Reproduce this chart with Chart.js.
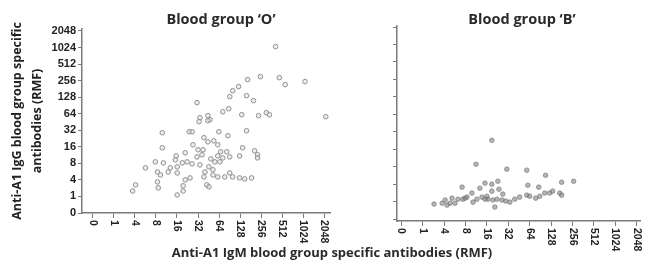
<!DOCTYPE html>
<html>
<head>
<meta charset="utf-8">
<script src="https://cdn.jsdelivr.net/npm/chart.js@4.4.0/dist/chart.umd.min.js"></script>
<style>
  body { margin: 0; background: #fff; }
  #wrap { position: relative; width: 646px; height: 263px; overflow: hidden; }
  .ttl { position: absolute; text-align: center; font: bold 14.5px "Open Sans", "Noto Sans", sans-serif; color: #2a2a2a; white-space: nowrap; }
  canvas { position: absolute; top: 0; }
</style>
</head>
<body>
<div id="wrap">
  <canvas id="chart-o" width="335" height="263" style="left:0"></canvas>
  <canvas id="chart-b" width="311" height="263" style="left:335px"></canvas>
  <div class="ttl" style="left:121px;top:9px;width:200px">Blood group ‘O’</div>
  <div class="ttl" style="left:422px;top:9px;width:200px">Blood group ‘B’</div>
  <div class="ttl" style="left:82px;top:243px;width:500px;font-size:13px">Anti-A1 IgM blood group specific antibodies (RMF)</div>
</div>
<script>
// tick labels: both axes use the same titre steps, one step per tick
var tickLabels = ['0', '1', '4', '8', '16', '32', '64', '128', '256', '512', '1024', '2048'];

// Blood group O: IgM step (x) / IgG step (y)
var groupOX = [8.69, 7.36, 7.97, 8.87, 9.15, 10.09, 6.65, 6.93, 6.51, 7.31, 7.64, 6.18, 6.46, 4.95, 5.09, 5.47, 5.57, 7.08, 7.88, 8.25,
  8.40, 11.08, 4.58, 4.72, 5.05, 5.47, 3.30, 3.30, 5.99, 6.42, 7.31, 5.28, 5.47, 5.75, 5.94, 4.76, 5.24, 5.00, 5.19, 4.95,
  4.39, 3.96, 3.92, 4.48, 4.72, 4.25, 4.01, 3.68, 3.58, 2.97, 3.35, 3.07, 3.21, 2.50, 4.01, 5.09, 5.33, 5.52, 5.71, 5.80,
  6.04, 5.61, 5.94, 6.08, 6.37, 6.18, 6.51, 7.12, 6.98, 7.69, 7.83, 7.83, 6.51, 6.65, 6.98, 7.22, 7.55, 6.27, 5.94, 5.71,
  5.28, 5.42, 5.52, 4.62, 4.39, 4.29, 4.29, 4.01, 3.07, 3.11, 2.03, 1.89];
var groupOY = [10.06, 8.06, 8.24, 8.18, 7.76, 7.94, 7.39, 7.64, 7.03, 7.09, 6.79, 6.12, 6.30, 6.67, 5.76, 5.88, 5.64, 5.94, 5.88, 6.06,
  5.94, 5.82, 4.91, 4.91, 5.52, 5.58, 4.85, 3.94, 4.91, 4.67, 4.97, 4.55, 4.30, 4.36, 4.12, 4.12, 3.82, 3.82, 3.52, 3.39,
  3.64, 3.45, 3.21, 3.09, 2.97, 3.03, 2.79, 2.73, 2.48, 3.09, 3.03, 2.48, 2.30, 2.73, 2.42, 2.91, 2.48, 2.79, 2.61, 3.09,
  3.09, 3.27, 3.45, 3.70, 3.70, 3.33, 3.39, 3.94, 3.45, 3.76, 3.52, 3.33, 2.42, 2.18, 2.12, 2.06, 2.12, 2.18, 2.18, 2.30,
  2.18, 1.70, 1.58, 2.12, 2.00, 1.64, 1.33, 1.09, 1.88, 1.52, 1.70, 1.33];

// Blood group B
var groupBX = [4.23, 3.49, 4.93, 5.86, 6.74, 7.49, 8.05, 2.84, 3.30, 3.67, 3.91, 4.23, 4.51, 4.23, 4.56, 5.91, 6.42, 4.74, 3.07, 2.65,
  2.37, 2.05, 1.91, 1.53, 2.14, 2.28, 2.51, 2.88, 3.35, 3.53, 3.91, 4.05, 4.28, 4.47, 4.70, 4.37, 4.88, 5.07, 5.30, 5.53,
  5.86, 6.00, 6.28, 6.47, 6.70, 6.93, 7.07, 7.40, 7.49, 3.77, 4.00, 2.98];
var groupBY = [4.51, 3.14, 2.86, 2.80, 2.51, 2.11, 2.17, 1.83, 1.49, 1.77, 2.06, 2.00, 2.17, 1.60, 1.71, 1.94, 1.83, 1.43, 1.26, 1.14,
  1.20, 1.09, 0.91, 0.86, 0.80, 0.91, 0.91, 1.14, 0.97, 1.14, 1.14, 1.14, 1.09, 1.14, 1.09, 0.69, 1.03, 0.97, 1.14, 1.26,
  1.37, 1.31, 1.20, 1.31, 1.49, 1.49, 1.60, 1.49, 1.37, 1.26, 1.31, 1.20];

var AXIS = '#7a7a7a';
var TICK_FONT = { family: '"Liberation Sans", Arial, sans-serif', size: 11, weight: 'bold' };

function pts(xs, ys) {
  return xs.map(function (x, i) { return { x: x, y: ys[i] }; });
}

function allTicks(scale) {
  scale.ticks = tickLabels.map(function (l, i) { return { value: i }; });
}

// x labels read top-to-bottom (rotated clockwise), drawn under each tick
var downLabels = {
  id: 'downLabels',
  afterDraw: function (chart) {
    var sc = chart.scales.x, ctx = chart.ctx;
    ctx.save();
    ctx.font = 'bold 10.5px "Liberation Sans", Arial, sans-serif';
    ctx.fillStyle = '#222';
    ctx.textAlign = 'left';
    ctx.textBaseline = 'middle';
    sc.ticks.forEach(function (t) {
      ctx.save();
      ctx.translate(sc.getPixelForValue(t.value), sc.top + 7);
      ctx.rotate(Math.PI / 2);
      ctx.fillText(tickLabels[t.value], 0, 0);
      ctx.restore();
    });
    ctx.restore();
  }
};

function makeChart(id, data, o) {
  return new Chart(document.getElementById(id).getContext('2d'), {
    type: 'scatter',
    data: { datasets: [{ data: data, pointRadius: o.r, pointBackgroundColor: o.fill, pointBorderColor: o.line, pointBorderWidth: 1 }] },
    plugins: [downLabels],
    options: {
      responsive: false, animation: false,
      layout: { padding: { top: o.top, right: o.right, left: 0, bottom: 0 } },
      plugins: { legend: { display: false }, tooltip: { enabled: false } },
      scales: {
        x: {
          type: 'linear', min: o.xmin, max: o.xmax,
          afterBuildTicks: allTicks,
          afterFit: function (s) { s.height = o.xh; },
          ticks: { display: false },
          grid: { drawOnChartArea: false, drawTicks: true, tickLength: 5, color: AXIS },
          border: { display: true, color: AXIS, width: 1.5 }
        },
        y: {
          type: 'linear', min: o.ymin, max: o.ymax,
          afterBuildTicks: allTicks,
          afterFit: function (s) { s.width = o.yw; },
          ticks: { display: o.yLabels, color: '#222', font: TICK_FONT, padding: 2, callback: function (v) { return tickLabels[v]; } },
          grid: { drawOnChartArea: false, drawTicks: true, tickLength: 4, color: AXIS },
          border: { display: true, color: AXIS, width: 1.5 },
          title: {
            display: o.yLabels, text: ['Anti-A1 IgG blood group specific', 'antibodies (RMF)'],
            color: '#222', font: { family: '"Open Sans", "Noto Sans", sans-serif', size: 12.5, weight: 'bold', lineHeight: 1.55 },
            padding: { top: 8, bottom: 0 }
          }
        }
      }
    }
  });
}

makeChart('chart-o', pts(groupOX, groupOY), {
  r: 2.3, fill: 'rgba(220,220,220,0.5)', line: '#909090',
  top: 29, right: 4, xmin: -0.52, xmax: 11.28, ymin: 0, ymax: 11.12, xh: 50, yw: 82, yLabels: true
});
makeChart('chart-b', pts(groupBX, groupBY), {
  r: 2.3, fill: 'rgba(120,120,120,0.55)', line: 'rgba(110,110,110,0.6)',
  top: 26, right: 6, xmin: -0.2, xmax: 11.15, ymin: -0.11, ymax: 11.06, xh: 42, yw: 62, yLabels: false
});
</script>
</body>
</html>
